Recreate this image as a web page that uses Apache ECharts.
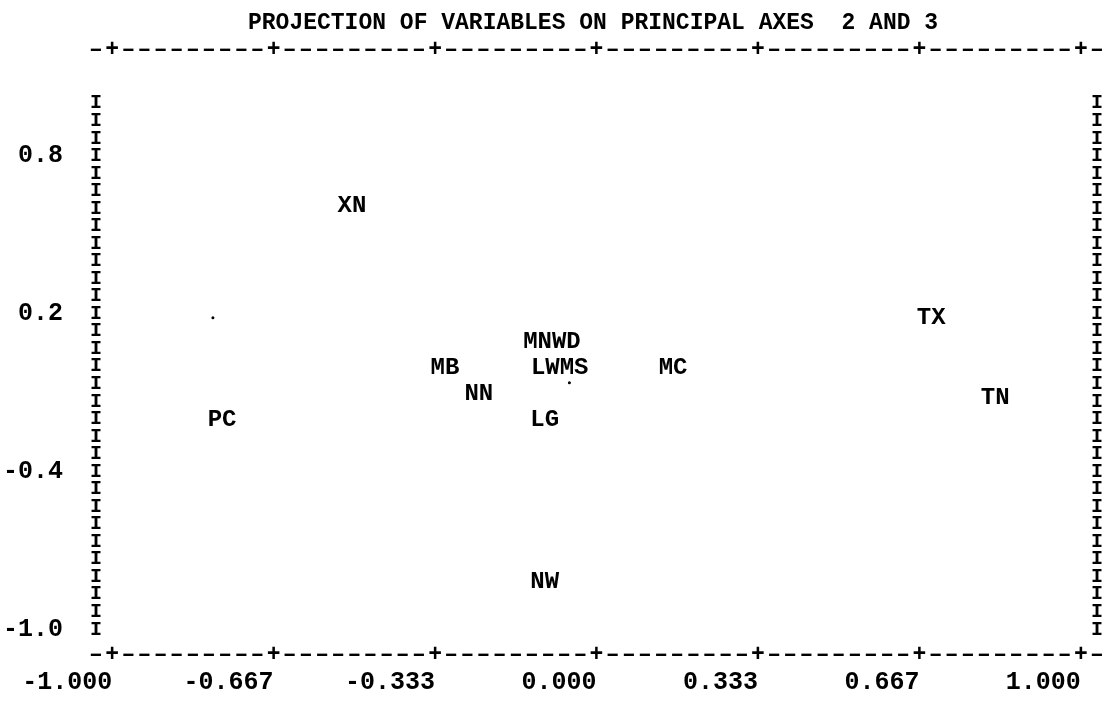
<!DOCTYPE html>
<html>
<head>
<meta charset="utf-8">
<script src="https://cdn.jsdelivr.net/npm/echarts@6/dist/echarts.min.js"></script>
<style>html,body{margin:0;padding:0;background:#fff}#c{width:1115px;height:709px}</style>
</head>
<body>
<div id="c"></div>
<script>
// ---- data ----
var titleText = 'PROJECTION OF VARIABLES ON PRINCIPAL AXES  2 AND 3';
var varNames = ['XN', 'TX', 'MNWD', 'MB', 'LWMS', 'MC', 'NN', 'TN', 'PC', 'LG', 'NW'];
var axis2 = [-0.505, 0.691, -0.092, -0.313, -0.076, 0.158, -0.243, 0.823, -0.773, -0.107, -0.107];
var axis3 = [0.612, 0.185, 0.094, -0.005, -0.005, -0.005, -0.104, -0.119, -0.203, -0.203, -0.819];
var dotX = [-0.792, -0.056];
var dotY = [0.185, -0.062];
var xTickValues = [-1, -2/3, -1/3, 0, 1/3, 2/3, 1];
var xTickLabels = ['-1.000', '-0.667', '-0.333', '0.000', '0.333', '0.667', '1.000'];
var yTickValues = [0.8, 0.2, -0.4, -1.0];
var yTickLabels = ['0.8', '0.2', '-0.4', '-1.0'];

// ---- typewriter grid (decoration derived from ticks) ----
var colStep = (xTickValues[1] - xTickValues[0]) / 10;   // 10 characters per x tick
var rowStep = (yTickValues[0] - yTickValues[1]) / 9;    // 9 lines per y tick
var xMin = -1 - colStep, xMax = 1 + colStep;
var yMin = -1.097, yMax = 1.203;

var FONT = "'Liberation Mono', 'Courier New', 'DejaVu Sans Mono', monospace";

var frame = [];
var nCols = Math.round((xMax - xMin) / colStep);
for (var i = 0; i <= nCols; i++) {
  var x = xMin + i * colStep;
  var isTick = xTickValues.some(function (t) { return Math.abs(t - x) < colStep / 3; });
  frame.push({ value: [x, yMax], name: isTick ? '+' : '\u2013' });
  frame.push({ value: [x, yMin], name: isTick ? '+' : '\u2013' });
}
var bars = [];
var yBottom = yTickValues[yTickValues.length - 1];
for (var k = 0; yBottom + k * rowStep <= 1.0 + 1e-6; k++) {
  var y = yBottom + k * rowStep;
  bars.push({ value: [xMin, y], name: 'I' });
  bars.push({ value: [xMax, y], name: 'I' });
}

var pts = varNames.map(function (n, i) { return { value: [axis2[i], axis3[i]], name: n }; });
var dots = dotX.map(function (x, i) { return [x, dotY[i]]; });

function glyphSeries(name, data, fs) {
  return {
    type: 'scatter', name: name, data: data, symbolSize: 1, silent: true,
    itemStyle: { color: 'rgba(0,0,0,0)', opacity: 1 },
    label: { show: true, position: 'inside', formatter: '{b}', fontFamily: FONT, fontWeight: 'bold', fontSize: fs, color: '#000', opacity: 1 }
  };
}

var chart = echarts.init(document.getElementById('c'), null, { renderer: 'canvas' });
chart.setOption({
  backgroundColor: '#fff',
  animation: false,
  title: {
    text: titleText, left: 243, top: 7,
    textStyle: { fontFamily: FONT, fontWeight: 'bold', fontSize: 23, color: '#000' }
  },
  grid: { left: 93, right: 18, top: 50, bottom: 54 },
  xAxis: {
    type: 'value', min: xMin, max: xMax,
    axisLine: { show: false }, axisTick: { show: false }, splitLine: { show: false },
    axisLabel: {
      customValues: xTickValues, margin: 15, align: 'right',
      fontFamily: FONT, fontWeight: 'bold', fontSize: 25, color: '#000',
      formatter: function (v) {
        var idx = xTickValues.findIndex(function (t) { return Math.abs(t - v) < 1e-6; });
        return idx >= 0 ? xTickLabels[idx] : v.toFixed(3);
      }
    }
  },
  yAxis: {
    type: 'value', min: yMin, max: yMax,
    axisLine: { show: false }, axisTick: { show: false }, splitLine: { show: false },
    axisLabel: {
      customValues: yTickValues, margin: 33,
      fontFamily: FONT, fontWeight: 'bold', fontSize: 25, color: '#000',
      formatter: function (v) {
        var idx = yTickValues.findIndex(function (t) { return Math.abs(t - v) < 1e-6; });
        return idx >= 0 ? yTickLabels[idx] : v.toFixed(1);
      }
    }
  },
  series: [
    glyphSeries('border', frame, 23),
    glyphSeries('columns', bars, 20),
    glyphSeries('variables', pts, 24),
    {
      type: 'scatter', name: 'dots', data: dots, symbolSize: 3, silent: true,
      itemStyle: { color: '#000', opacity: 1 }
    }
  ]
});
</script>
</body>
</html>
